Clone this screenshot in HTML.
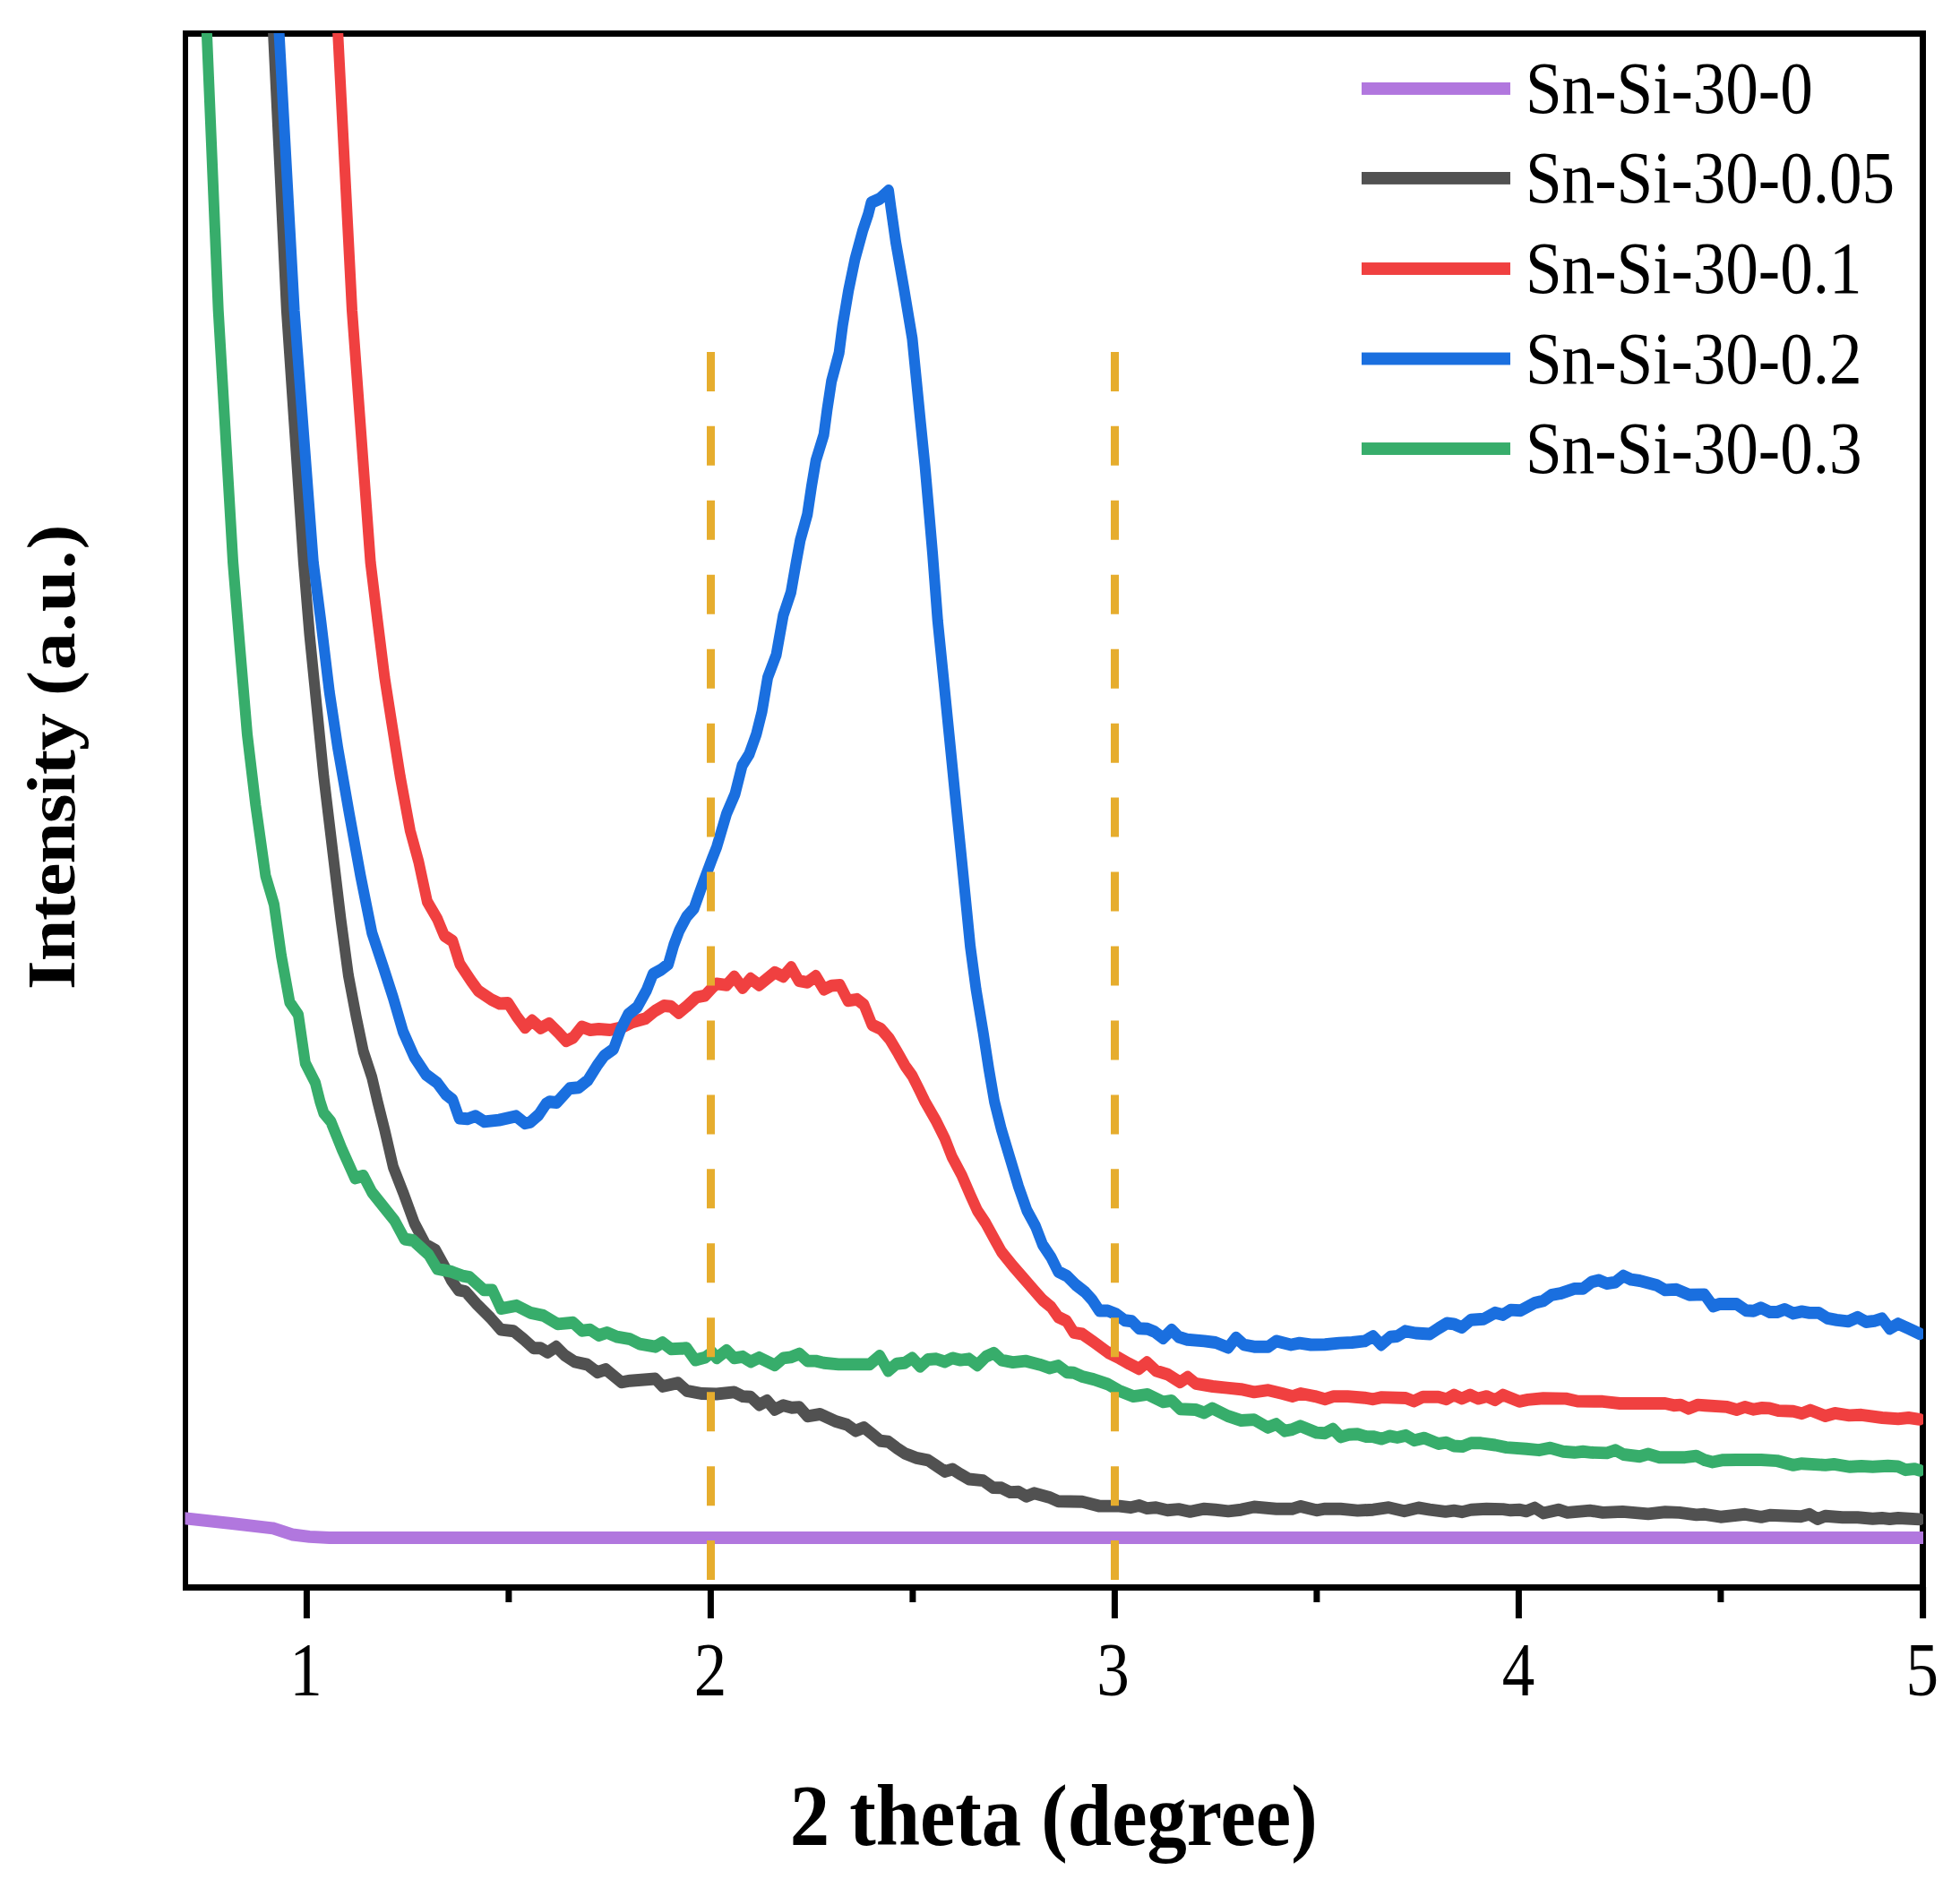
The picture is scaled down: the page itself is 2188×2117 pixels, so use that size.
<!DOCTYPE html>
<html lang="en"><head><meta charset="utf-8"><title>XRD pattern</title>
<style>html,body{margin:0;padding:0;background:#fff}body{width:2188px;height:2117px;overflow:hidden}svg{display:block}text{font-family:"Liberation Serif","Times New Roman",serif;fill:#000}</style></head><body>
<svg width="2188" height="2117" viewBox="0 0 2188 2117">
<rect width="2188" height="2117" fill="#fff"/>
<defs><clipPath id="plot"><rect x="206.5" y="37" width="1940.5" height="1735"/></clipPath></defs>
<g fill="#000">
<rect x="204" y="34" width="1946" height="7"/>
<rect x="204" y="1769" width="1946" height="7"/>
<rect x="204" y="34" width="6" height="1742"/>
<rect x="2143" y="34" width="7" height="1742"/>
<rect x="338.9" y="1772" width="7" height="35"/>
<rect x="789.9" y="1772" width="7" height="35"/>
<rect x="1240.9" y="1772" width="7" height="35"/>
<rect x="1691.9" y="1772" width="7" height="35"/>
<rect x="2143.1" y="1772" width="7" height="35"/>
<rect x="564.4" y="1772" width="7" height="17"/>
<rect x="1015.4" y="1772" width="7" height="17"/>
<rect x="1466.4" y="1772" width="7" height="17"/>
<rect x="1917.4" y="1772" width="7" height="17"/>
</g>
<g clip-path="url(#plot)">
<g transform="scale(1,1.155)" fill="none" stroke-width="12.05" stroke-linejoin="round" stroke-linecap="round">
<path stroke="#B177DE" d="M197.6,1466.84 L304.4,1477.32 L326.6,1483.55 L345.6,1485.63 L367.7,1486.54 L2150.0,1486.54"/>
<path stroke="#515151" d="M303.6,0.00 L305.1,32.03 L319.9,300.00 L338.9,543.72 L345.6,613.85 L353.5,682.25 L361.4,750.65 L370.9,819.48 L380.4,887.97 L388.9,942.86 L397.8,983.55 L405.7,1016.45 L415.2,1041.56 L421.5,1064.94 L429.4,1092.29 L438.9,1127.97 L450.0,1152.64 L462.7,1182.68 L475.3,1203.29 L486.4,1208.74 L495.9,1223.81 L503.8,1237.58 L511.7,1247.10 L519.6,1248.48 L532.3,1260.87 L548.1,1274.55 L559.2,1285.45 L573.4,1286.84 L584.5,1294.55 L595.6,1303.29 L603.5,1303.29 L611.4,1307.36 L620.9,1301.90 L630.4,1310.13 L641.5,1316.45 L655.7,1319.22 L666.8,1326.58 L676.3,1323.81 L693.7,1336.19 L703.2,1334.81 L731.6,1332.90 L739.6,1340.26 L757.0,1336.97 L766.5,1344.42 L783.9,1347.19 L800.0,1347.62 L819.6,1345.80 L829.1,1349.87 L838.0,1350.39 L847.5,1358.10 L856.3,1354.03 L864.9,1362.77 L874.4,1358.61 L883.9,1360.87 L892.4,1360.26 L901.3,1369.09 L915.5,1367.10 L932.9,1374.03 L945.6,1377.32 L955.1,1383.29 L964.6,1380.00 L973.4,1386.06 L982.9,1392.90 L991.5,1393.68 L1000.9,1399.74 L1010.4,1405.19 L1023.1,1409.35 L1035.8,1411.52 L1045.3,1416.97 L1054.7,1422.51 L1063.3,1420.26 L1072.2,1425.19 L1081.6,1429.87 L1097.5,1431.26 L1108.5,1438.10 L1118.0,1438.35 L1127.5,1442.51 L1137.0,1442.25 L1145.6,1446.58 L1154.4,1443.55 L1171.8,1447.71 L1181.3,1451.26 L1208.2,1451.77 L1227.2,1455.93 L1249.4,1455.93 L1262.0,1457.32 L1271.5,1455.41 L1280.4,1458.10 L1290.5,1457.32 L1303.2,1460.00 L1315.8,1458.96 L1328.5,1461.39 L1344.3,1458.61 L1357.0,1459.48 L1371.2,1460.87 L1385.4,1459.48 L1400.0,1456.71 L1424.7,1458.61 L1442.7,1458.61 L1451.6,1456.19 L1469.6,1460.00 L1479.1,1458.61 L1496.5,1458.61 L1515.5,1460.26 L1532.9,1459.48 L1550.3,1457.32 L1567.7,1460.87 L1583.5,1457.58 L1596.2,1459.48 L1613.6,1461.39 L1623.1,1460.26 L1632.0,1461.65 L1642.1,1459.48 L1659.5,1458.61 L1677.8,1458.96 L1686.4,1460.00 L1695.9,1459.48 L1703.8,1460.87 L1713.3,1457.58 L1722.8,1462.77 L1740.2,1459.48 L1749.7,1462.25 L1775.0,1460.26 L1789.2,1462.25 L1811.4,1461.39 L1839.9,1463.55 L1858.9,1461.65 L1874.7,1462.25 L1893.7,1464.42 L1902.8,1463.90 L1920.7,1466.41 L1948.1,1463.90 L1966.1,1466.58 L1975.6,1464.76 L2010.4,1466.06 L2019.9,1463.90 L2028.9,1468.40 L2037.8,1465.54 L2056.8,1466.93 L2073.7,1466.93 L2090.5,1468.23 L2101.1,1467.53 L2109.5,1468.40 L2119.0,1467.53 L2143.0,1468.74"/>
<path stroke="#F04040" d="M375.5,0.00 L377.2,32.03 L393.0,300.00 L413.6,543.72 L421.5,600.26 L429.4,655.06 L437.3,698.87 L446.8,750.91 L457.9,803.03 L467.4,833.16 L476.9,871.52 L488.0,887.97 L495.9,904.42 L505.4,909.87 L513.3,931.77 L525.9,948.23 L533.9,957.84 L548.1,966.06 L557.6,970.13 L567.1,969.61 L576.6,982.42 L586.1,993.42 L594.0,986.58 L603.5,993.94 L613.0,989.35 L622.5,997.58 L632.0,1006.32 L639.9,1003.03 L649.4,992.64 L658.9,995.67 L668.4,994.81 L681.0,995.67 L693.7,993.42 L706.3,987.97 L720.6,984.68 L731.6,976.97 L741.1,972.29 L749.0,972.90 L757.6,979.22 L766.5,972.90 L777.5,964.07 L787.0,962.42 L796.5,953.68 L800.0,951.00 L811.1,952.29 L819.6,944.07 L829.1,955.06 L838.0,946.06 L847.5,952.29 L864.9,940.00 L874.4,944.07 L883.2,935.06 L891.8,948.23 L901.3,949.61 L910.8,943.55 L919.6,956.45 L928.2,952.90 L937.7,952.29 L946.5,967.36 L956.6,966.06 L964.6,971.52 L973.4,990.65 L983.5,994.81 L993.0,1004.33 L1002.5,1018.10 L1010.4,1030.39 L1018.4,1040.00 L1026.3,1053.68 L1032.6,1064.94 L1045.3,1084.16 L1054.7,1100.52 L1062.7,1118.35 L1073.7,1136.19 L1083.2,1155.32 L1091.1,1170.39 L1100.6,1182.77 L1110.1,1197.84 L1118.0,1210.13 L1130.7,1223.81 L1141.8,1234.81 L1152.8,1245.80 L1163.9,1256.71 L1173.4,1263.55 L1181.3,1273.16 L1190.8,1277.23 L1198.7,1288.23 L1208.2,1289.61 L1220.9,1297.32 L1236.7,1307.36 L1249.4,1312.90 L1260.4,1318.35 L1271.5,1323.29 L1280.4,1316.97 L1290.5,1325.19 L1303.2,1328.48 L1317.4,1336.19 L1325.9,1331.26 L1334.8,1337.58 L1353.8,1340.26 L1369.6,1341.65 L1385.4,1343.03 L1400.0,1345.80 L1415.8,1343.90 L1431.6,1347.19 L1442.7,1349.87 L1452.2,1347.19 L1468.0,1349.87 L1479.1,1352.64 L1488.6,1349.87 L1504.4,1349.87 L1523.4,1351.26 L1532.9,1352.64 L1542.4,1350.74 L1569.3,1351.52 L1578.2,1354.55 L1588.3,1350.39 L1605.7,1350.39 L1614.6,1352.64 L1623.1,1348.48 L1632.0,1352.03 L1641.1,1348.48 L1650.0,1352.03 L1659.5,1349.87 L1669.0,1353.42 L1677.8,1348.48 L1695.9,1354.81 L1705.4,1353.16 L1722.8,1351.77 L1748.1,1352.03 L1760.8,1354.55 L1789.2,1354.81 L1808.2,1356.71 L1858.9,1356.71 L1868.4,1358.61 L1876.3,1358.10 L1885.1,1361.65 L1895.3,1358.10 L1902.8,1358.61 L1928.1,1360.09 L1938.6,1362.86 L1948.1,1360.09 L1957.6,1362.51 L1967.1,1361.04 L1975.6,1361.39 L1985.0,1363.72 L2001.9,1364.33 L2011.4,1366.49 L2020.9,1363.20 L2037.8,1368.92 L2048.3,1366.15 L2064.2,1368.31 L2077.9,1367.79 L2101.1,1370.56 L2119.0,1371.60 L2130.6,1370.56 L2143.0,1372.12"/>
<path stroke="#1A6FDF" d="M310.0,0.00 L311.6,32.03 L328.6,300.00 L349.8,543.72 L358.2,600.26 L367.7,668.74 L377.2,723.55 L389.9,786.58 L402.5,846.75 L415.2,901.65 L427.8,934.55 L438.9,964.50 L450.0,997.40 L462.7,1022.16 L475.3,1038.61 L488.0,1046.75 L497.5,1057.84 L505.4,1063.20 L512.6,1080.95 L521.8,1081.65 L530.8,1078.96 L540.6,1084.33 L557.0,1082.77 L576.0,1079.05 L586.0,1085.89 L592.0,1084.85 L601.2,1077.84 L609.4,1067.27 L613.5,1065.11 L621.6,1065.80 L635.9,1052.21 L646.1,1051.34 L656.3,1044.24 L666.5,1030.13 L674.7,1020.43 L684.9,1014.20 L693.1,994.81 L701.2,980.69 L711.4,973.59 L721.6,957.66 L728.8,941.82 L738.0,937.40 L746.1,932.03 L752.2,913.51 L758.4,899.39 L766.5,886.15 L774.7,878.18 L779.8,865.80 L785.4,852.29 L794.9,830.39 L800.0,819.05 L811.1,786.58 L820.6,767.36 L828.5,740.00 L836.4,729.00 L844.3,709.87 L850.6,687.97 L857.0,655.06 L866.5,633.16 L874.4,594.81 L882.9,572.81 L888.6,544.59 L893.4,521.90 L901.3,497.23 L906.0,469.87 L910.8,445.19 L919.6,420.52 L923.4,395.84 L928.2,368.48 L936.7,341.04 L940.8,313.68 L947.2,280.78 L954.4,250.65 L963.0,223.20 L969.3,206.84 L972.5,195.84 L982.0,192.21 L992.0,184.42 L994.6,201.30 L1000.0,234.20 L1008.9,278.01 L1018.4,327.36 L1023.1,368.48 L1027.8,409.52 L1032.6,450.65 L1037.3,497.23 L1041.1,535.58 L1046.8,600.26 L1053.2,655.06 L1059.5,709.87 L1065.8,764.68 L1072.2,819.48 L1078.5,874.20 L1083.2,915.32 L1089.6,956.45 L1097.5,997.58 L1103.8,1033.16 L1110.1,1064.94 L1118.0,1092.29 L1127.5,1119.74 L1137.0,1147.10 L1146.5,1170.39 L1156.0,1185.45 L1163.9,1203.29 L1173.4,1215.58 L1181.3,1229.35 L1190.8,1233.42 L1200.3,1241.65 L1211.4,1249.09 L1219.3,1256.71 L1227.2,1267.10 L1236.7,1267.10 L1246.2,1270.39 L1255.7,1276.45 L1263.6,1277.23 L1271.5,1284.16 L1281.0,1284.68 L1288.9,1287.45 L1298.4,1293.68 L1307.9,1285.45 L1315.8,1292.38 L1325.3,1295.06 L1344.3,1296.45 L1357.0,1297.84 L1371.2,1302.77 L1379.7,1293.16 L1388.6,1300.00 L1400.0,1301.90 L1415.8,1301.90 L1424.7,1296.45 L1441.1,1300.00 L1450.6,1298.35 L1463.3,1300.00 L1479.1,1299.74 L1494.9,1298.35 L1509.2,1297.84 L1523.4,1296.45 L1532.9,1291.77 L1541.8,1300.00 L1551.9,1292.38 L1559.8,1291.77 L1568.7,1286.84 L1580.4,1288.74 L1596.2,1289.61 L1605.7,1284.16 L1615.2,1279.22 L1623.1,1280.00 L1632.0,1283.29 L1642.1,1275.93 L1656.3,1275.06 L1669.0,1269.09 L1677.8,1271.00 L1686.4,1266.32 L1697.5,1266.84 L1713.3,1259.48 L1722.8,1257.58 L1732.3,1251.77 L1741.8,1250.39 L1757.6,1245.80 L1767.1,1245.80 L1776.6,1239.48 L1784.5,1237.58 L1794.0,1240.87 L1803.5,1239.48 L1812.3,1233.42 L1820.9,1236.97 L1830.4,1238.10 L1849.4,1242.42 L1858.9,1247.10 L1871.5,1246.58 L1885.8,1251.77 L1902.8,1251.43 L1912.3,1262.77 L1919.6,1260.61 L1938.6,1260.61 L1949.2,1266.93 L1957.6,1267.36 L1965.6,1264.24 L1975.6,1268.40 L1984.0,1268.40 L1992.4,1265.71 L2001.9,1269.70 L2011.4,1267.88 L2019.9,1269.18 L2030.4,1269.18 L2039.9,1274.29 L2050.4,1276.10 L2063.1,1277.40 L2073.7,1273.33 L2083.1,1277.92 L2092.6,1276.97 L2101.1,1274.63 L2109.5,1284.33 L2119.0,1279.74 L2130.6,1284.33 L2143.0,1289.35"/>
<path stroke="#37AD6B" d="M230.9,32.03 L243.7,300.00 L260.1,543.72 L268.0,627.71 L276.0,709.96 L285.4,778.35 L296.5,846.75 L306.0,874.46 L314.0,923.81 L323.4,968.83 L333.0,980.95 L340.8,1027.71 L352.0,1046.75 L357.3,1064.94 L361.4,1075.93 L369.3,1084.16 L382.0,1111.52 L396.2,1138.87 L405.7,1136.71 L415.2,1152.64 L427.8,1166.23 L440.5,1180.00 L451.6,1197.84 L461.1,1199.13 L478.5,1212.90 L488.0,1226.58 L503.8,1229.35 L516.5,1233.42 L524.4,1234.81 L540.2,1247.10 L549.7,1247.10 L559.2,1264.94 L576.6,1262.16 L592.4,1269.09 L606.6,1271.77 L622.5,1280.00 L639.9,1278.61 L649.4,1286.32 L658.9,1285.45 L668.4,1290.91 L677.8,1288.23 L688.9,1292.38 L703.2,1294.55 L714.2,1299.22 L731.6,1301.90 L739.6,1297.84 L749.0,1304.16 L766.5,1303.29 L776.0,1314.81 L787.0,1312.38 L794.9,1307.36 L800.0,1312.90 L811.1,1305.45 L819.6,1312.90 L829.1,1311.52 L838.0,1316.45 L847.5,1312.38 L864.9,1319.74 L874.4,1312.90 L882.9,1312.03 L892.4,1308.74 L901.3,1315.67 L910.8,1315.67 L919.6,1317.58 L936.1,1318.96 L970.9,1318.96 L982.0,1310.74 L991.5,1325.19 L1000.9,1318.35 L1009.8,1317.58 L1018.4,1312.90 L1027.2,1321.13 L1035.8,1314.29 L1045.3,1313.68 L1054.7,1316.45 L1063.3,1312.90 L1072.2,1314.81 L1081.6,1313.68 L1091.1,1319.74 L1100.6,1311.52 L1109.5,1307.97 L1118.0,1314.81 L1130.7,1316.97 L1144.9,1315.67 L1160.8,1319.22 L1171.8,1322.51 L1181.3,1320.35 L1190.8,1326.58 L1198.7,1327.10 L1208.2,1330.74 L1220.9,1333.42 L1236.7,1338.10 L1249.4,1344.42 L1265.2,1349.87 L1281.0,1347.97 L1298.4,1355.32 L1307.9,1354.03 L1317.4,1362.16 L1334.8,1362.77 L1344.3,1365.80 L1353.2,1361.39 L1371.2,1369.09 L1385.4,1373.16 L1400.0,1372.38 L1415.2,1380.00 L1424.7,1376.71 L1434.2,1383.29 L1442.7,1381.90 L1451.6,1378.61 L1469.6,1384.94 L1479.1,1385.54 L1488.0,1381.39 L1496.5,1389.09 L1506.0,1386.84 L1515.5,1386.32 L1525.0,1388.83 L1532.9,1388.83 L1542.4,1391.00 L1551.3,1388.23 L1559.8,1389.61 L1569.3,1387.71 L1578.8,1392.38 L1589.9,1390.13 L1605.7,1395.67 L1614.6,1394.55 L1623.1,1397.84 L1632.6,1398.35 L1642.1,1395.06 L1653.2,1395.06 L1669.0,1396.97 L1681.6,1399.22 L1703.8,1400.61 L1718.0,1401.90 L1730.7,1399.74 L1744.9,1403.29 L1757.6,1404.16 L1767.1,1403.29 L1776.6,1404.16 L1794.0,1404.68 L1803.5,1401.90 L1812.3,1406.06 L1830.4,1407.97 L1839.9,1405.54 L1852.5,1408.83 L1881.0,1408.83 L1893.7,1407.45 L1903.2,1411.52 L1911.7,1413.42 L1922.2,1411.52 L1938.6,1411.26 L1966.1,1411.26 L1984.0,1412.21 L2001.9,1416.36 L2011.4,1414.89 L2037.8,1416.36 L2047.3,1415.50 L2065.2,1418.01 L2077.9,1417.32 L2090.5,1418.01 L2107.4,1417.14 L2119.0,1417.66 L2127.4,1420.95 L2136.9,1420.00 L2143.0,1421.47"/>
</g></g>
<line x1="793.5" y1="392.9" x2="793.5" y2="1769" stroke="#E6AD2E" stroke-width="9" stroke-dasharray="44 38.95"/>
<line x1="1244.5" y1="392.9" x2="1244.5" y2="1769" stroke="#E6AD2E" stroke-width="9" stroke-dasharray="44 38.95"/>
<rect x="1520" y="92.00" width="166" height="13.9" fill="#B177DE"/>
<text transform="translate(1702.95,126.3) scale(1,1.115)" font-size="73.1">Sn-Si-30-0</text>
<rect x="1520" y="192.00" width="166" height="13.9" fill="#515151"/>
<text transform="translate(1702.95,226.3) scale(1,1.115)" font-size="73.1">Sn-Si-30-0.05</text>
<rect x="1520" y="293.05" width="166" height="13.9" fill="#F04040"/>
<text transform="translate(1702.95,327.4) scale(1,1.115)" font-size="73.1">Sn-Si-30-0.1</text>
<rect x="1520" y="393.55" width="166" height="13.9" fill="#1A6FDF"/>
<text transform="translate(1702.95,427.9) scale(1,1.115)" font-size="73.1">Sn-Si-30-0.2</text>
<rect x="1520" y="494.05" width="166" height="13.9" fill="#37AD6B"/>
<text transform="translate(1702.95,528.4) scale(1,1.115)" font-size="73.1">Sn-Si-30-0.3</text>
<text transform="translate(341.4,1893) scale(1,1.147)" font-size="73.1" text-anchor="middle">1</text>
<text transform="translate(792.9,1893) scale(1,1.147)" font-size="73.1" text-anchor="middle">2</text>
<text transform="translate(1242.5,1893) scale(1,1.147)" font-size="73.1" text-anchor="middle">3</text>
<text transform="translate(1695.0,1893) scale(1,1.147)" font-size="73.1" text-anchor="middle">4</text>
<text transform="translate(2145.7,1893) scale(1,1.147)" font-size="73.1" text-anchor="middle">5</text>
<text transform="translate(1176.2,2060.2) scale(1,1.105)" font-size="88.65" font-weight="bold" text-anchor="middle">2 theta (degree)</text>
<text transform="translate(83.2,844.8) scale(1,1.10) rotate(-90)" font-size="76" font-weight="bold" text-anchor="middle"><tspan letter-spacing="-0.8">Intensity </tspan><tspan letter-spacing="1.0">(a.u.)</tspan></text>
</svg></body></html>
